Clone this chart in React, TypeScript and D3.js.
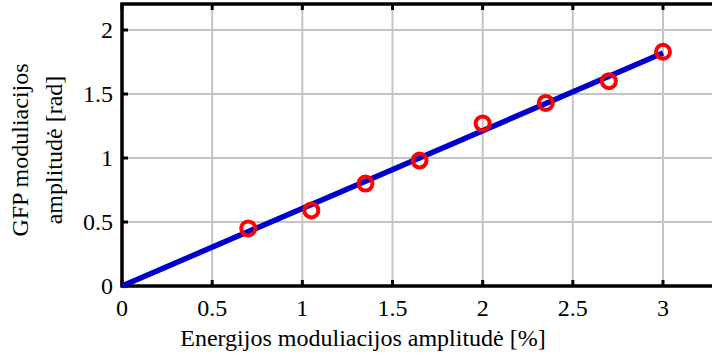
import React, { useEffect, useRef } from "react";
import * as d3 from "d3";

// measured points
const energyAmp = [0.7, 1.05, 1.35, 1.65, 2.0, 2.35, 2.7, 3.0];
const gfpAmp = [0.45, 0.59, 0.8, 0.98, 1.27, 1.43, 1.6, 1.83];
// fitted line
const fitX = [0, 3];
const fitY = [0, 1.82];
const xTicks = [0, 0.5, 1, 1.5, 2, 2.5, 3];
const yTicks = [0, 0.5, 1, 1.5, 2];

const W = 712;
const H = 359;
const font = "Liberation Serif";

export default function App() {
  const ref = useRef<SVGSVGElement>(null);

  useEffect(() => {
    const svg = d3.select(ref.current);
    svg.selectAll("*").remove();

    const left = 122;
    const bottom = 286;
    const top = 4;
    const x = d3.scaleLinear().domain([0, 3]).range([left, 663]);
    const y = d3.scaleLinear().domain([0, 2]).range([bottom, 30]);
    const right = x(3.3);

    // grid
    const grid = svg.append("g").attr("stroke", "#c4c4c4").attr("stroke-width", 2);
    grid
      .selectAll("line.gx")
      .data(xTicks.slice(1))
      .join("line")
      .attr("x1", (d) => x(d))
      .attr("x2", (d) => x(d))
      .attr("y1", top)
      .attr("y2", bottom);
    grid
      .selectAll("line.gy")
      .data(yTicks.slice(1))
      .join("line")
      .attr("x1", left)
      .attr("x2", right)
      .attr("y1", (d) => y(d))
      .attr("y2", (d) => y(d));

    // tick marks (inward, bottom/top and left)
    const tk = svg.append("g").attr("stroke", "#000").attr("stroke-width", 3);
    xTicks.forEach((d) => {
      tk.append("line").attr("x1", x(d)).attr("x2", x(d)).attr("y1", bottom).attr("y2", bottom - 6);
      tk.append("line").attr("x1", x(d)).attr("x2", x(d)).attr("y1", top).attr("y2", top + 6);
    });
    yTicks.forEach((d) => {
      tk.append("line").attr("x1", left).attr("x2", left + 6).attr("y1", y(d)).attr("y2", y(d));
    });

    // axes box
    svg
      .append("path")
      .attr("d", `M${right},${top}H${left}V${bottom}H${right}`)
      .attr("fill", "none")
      .attr("stroke", "#000")
      .attr("stroke-width", 3.5);

    // fit line
    const lineGen = d3
      .line<number>()
      .x((d) => x(d))
      .y((_, i) => y(fitY[i]));
    svg
      .append("path")
      .attr("d", lineGen(fitX))
      .attr("fill", "none")
      .attr("stroke", "#0000cc")
      .attr("stroke-width", 5.5);

    // markers
    svg
      .selectAll("circle")
      .data(energyAmp)
      .join("circle")
      .attr("cx", (d) => x(d))
      .attr("cy", (_, i) => y(gfpAmp[i]))
      .attr("r", 7)
      .attr("fill", "none")
      .attr("stroke", "#ff0000")
      .attr("stroke-width", 4);

    const txt = (sel: any) => sel.attr("font-family", font).attr("font-size", 24).attr("fill", "#000");

    // tick labels
    svg
      .selectAll("text.xt")
      .data(xTicks)
      .join("text")
      .attr("class", "xt")
      .attr("x", (d) => x(d))
      .attr("y", 316)
      .attr("text-anchor", "middle")
      .call(txt)
      .text((d) => String(d));
    svg
      .selectAll("text.yt")
      .data(yTicks)
      .join("text")
      .attr("class", "yt")
      .attr("x", 113)
      .attr("y", (d) => y(d) + 8)
      .attr("text-anchor", "end")
      .call(txt)
      .text((d) => String(d));

    // axis labels
    svg
      .append("text")
      .attr("x", 363)
      .attr("y", 346)
      .attr("text-anchor", "middle")
      .call(txt)
      .text("Energijos moduliacijos amplitudė [%]");
    const yl = svg
      .append("text")
      .attr("transform", `translate(0,${(top + bottom) / 2 + 5}) rotate(-90)`)
      .attr("text-anchor", "middle")
      .call(txt);
    yl.append("tspan").attr("x", 0).attr("y", 28).text("GFP moduliacijos");
    yl.append("tspan").attr("x", 0).attr("y", 62).text("amplitudė [rad]");
  }, []);

  return (
    <div style={{ position: "fixed", left: 0, top: 0 }}>
      <svg ref={ref} width={W} height={H} style={{ display: "block", background: "#fff" }} />
    </div>
  );
}
